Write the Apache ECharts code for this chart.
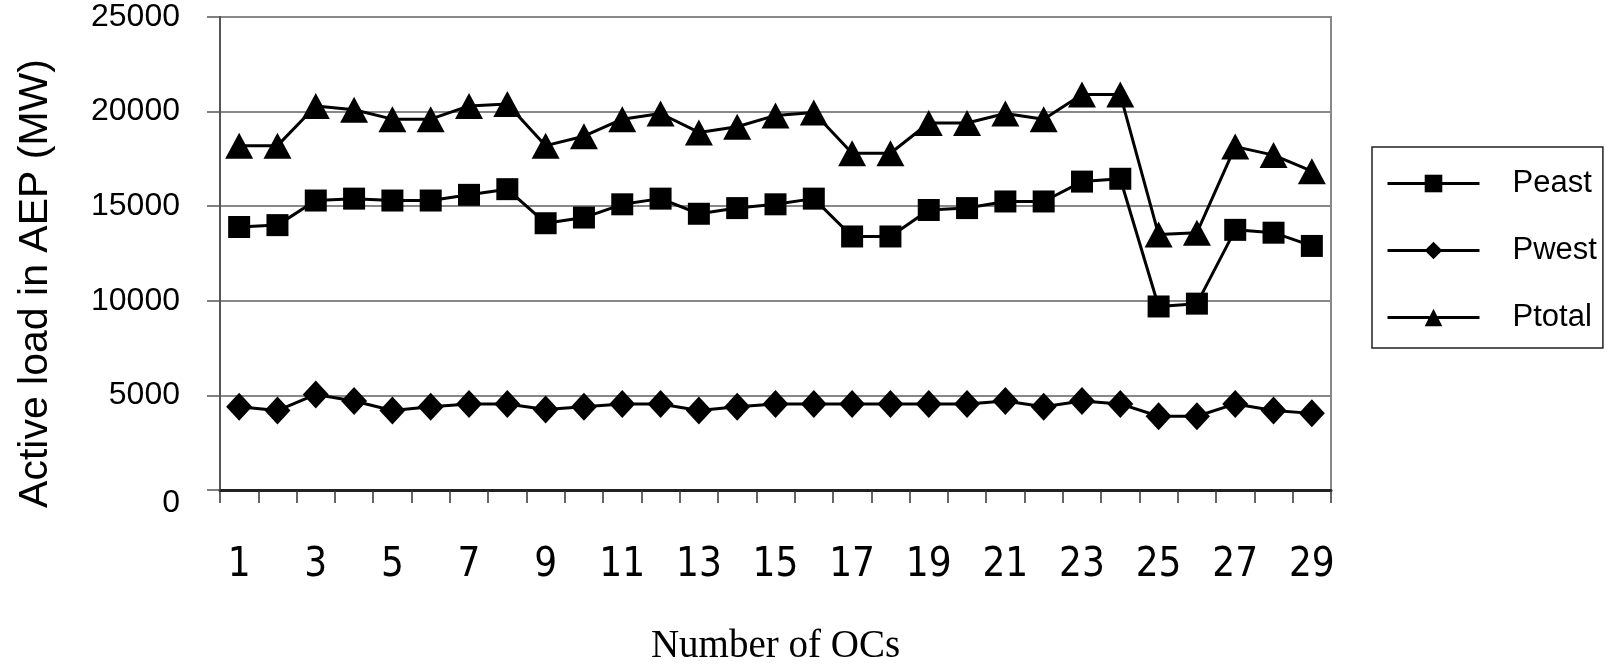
<!DOCTYPE html>
<html>
<head>
<meta charset="utf-8">
<script src="https://cdn.jsdelivr.net/npm/echarts@6/dist/echarts.min.js"></script>
<style>
html,body{margin:0;padding:0;background:#fff;}
#chart{width:1621px;height:666px;}
</style>
</head>
<body>
<div id="chart"></div>
<script>
const categories = ['1','2','3','4','5','6','7','8','9','10','11','12','13','14','15','16','17','18','19','20','21','22','23','24','25','26','27','28','29'];
const peast  = [13900,14000,15300,15400,15300,15300,15600,15900,14100,14400,15100,15400,14600,14900,15100,15400,13400,13400,14800,14900,15250,15250,16300,16450,9700,9850,13750,13600,12900];
const pwest  = [4400,4200,5050,4700,4200,4400,4550,4550,4250,4400,4550,4550,4200,4400,4550,4550,4550,4550,4550,4550,4700,4400,4700,4550,3900,3900,4550,4200,4050];
const ptotal = [18200,18200,20300,20100,19600,19600,20300,20400,18200,18700,19600,19900,18900,19200,19800,19950,17800,17800,19400,19400,19900,19600,20900,20900,13500,13600,18150,17700,16850];
const yTicks = {min:0, max:25000, interval:5000};

const chart = echarts.init(document.getElementById('chart'), null, {renderer:'canvas'});
const narrow = "'Liberation Sans Narrow','DejaVu Sans Condensed','Liberation Sans',sans-serif";
function mk(name, data, symbol, size){
  return {
    name, type:'line', data, symbol, symbolSize:size, showAllSymbol:true,
    itemStyle:{color:'#000'}, lineStyle:{color:'#000', width:3}, animation:false
  };
}
chart.setOption({
  animation:false,
  backgroundColor:'#fff',
  grid:{left:220, right:290, top:17, bottom:176, containLabel:false, outerBoundsMode:'none',
        show:true, borderColor:'#888', borderWidth:2},
  legend:{
    orient:'vertical', left:1372, top:147, width:230,
    borderColor:'#222', borderWidth:1.5,
    padding:[21,6,15,14],
    itemWidth:92, itemHeight:22, itemGap:36,
    lineStyle:{width:3},
    textStyle:{fontFamily:'Liberation Sans', fontSize:31, color:'#000', padding:[0,0,0,28]},
    data:['Peast','Pwest','Ptotal']
  },
  xAxis:{
    type:'category', data:categories, boundaryGap:true,
    axisLine:{lineStyle:{color:'#222', width:3}},
    axisTick:{show:true, interval:0, length:13, lineStyle:{color:'#333', width:1.5}},
    axisLabel:{interval:1, fontFamily:narrow, fontSize:40, color:'#000', margin:56},
    splitLine:{show:false},
    name:'Number of OCs', nameLocation:'middle', nameGap:137,
    nameTextStyle:{fontFamily:'Liberation Serif', fontSize:39, color:'#000'}
  },
  yAxis:{
    type:'value', min:yTicks.min, max:yTicks.max, interval:yTicks.interval,
    axisLine:{show:true, lineStyle:{color:'#555', width:2}},
    axisTick:{show:true, length:13, lineStyle:{color:'#555', width:1.5}},
    axisLabel:{fontFamily:'Liberation Sans', fontSize:32, color:'#000', margin:40,
      formatter:v=> v===0 ? '{z|0}' : String(v),
      rich:{z:{fontFamily:'Liberation Sans', fontSize:32, color:'#000', padding:[27,0,0,0]}}},
    splitLine:{show:true, lineStyle:{color:'#888', width:2}},
    name:'Active load in AEP (MW)', nameLocation:'middle', nameGap:164,
    nameTextStyle:{fontFamily:'Liberation Sans', fontSize:41, color:'#000', padding:[0,60,0,0]}
  },
  series:[
    mk('Peast', peast, 'rect', 22),
    mk('Pwest', pwest, 'diamond', [26,28]),
    mk('Ptotal', ptotal, 'triangle', [28,26])
  ]
});
</script>
</body>
</html>
